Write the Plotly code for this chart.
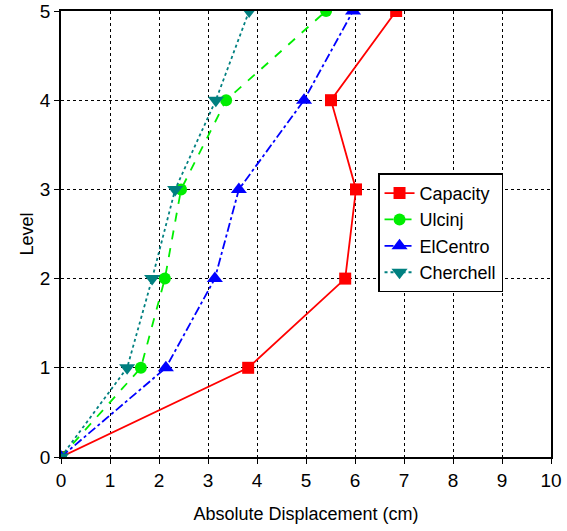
import plotly.graph_objects as go

levels = [0, 1, 2, 3, 4, 5]
capacity = [0, 3.82, 5.80, 6.02, 5.51, 6.84]
ulcinj = [0, 1.63, 2.12, 2.45, 3.37, 5.41]
elcentro = [0, 2.14, 3.14, 3.63, 4.96, 5.96]
cherchell = [0, 1.35, 1.86, 2.33, 3.16, 3.84]

series = [
    ("Capacity", capacity, "#ff0000", "solid", "square", 12),
    ("Ulcinj", ulcinj, "#00ee00", "dash", "circle", 12),
    ("ElCentro", elcentro, "#0000ff", "dashdot", "triangle-up", 14),
    ("Cherchell", cherchell, "#008080", "dot", "triangle-down", 14),
]

fig = go.Figure()
for name, xs, col, dash, sym, sz in series:
    fig.add_trace(go.Scatter(
        x=xs, y=levels, name=name, mode="lines+markers",
        line=dict(color=col, dash=dash, width=1.8),
        marker=dict(symbol=sym, size=sz, color=col),
    ))

axis_common = dict(
    showline=True, linecolor="black", linewidth=1.5, mirror=True,
    showgrid=True, gridcolor="black", griddash="dot", gridwidth=1,
    ticks="outside", ticklen=5, tickcolor="black", automargin=False,
    zeroline=False, tickfont=dict(size=19, color="black", family="Liberation Sans"),
)
fig.update_xaxes(range=[0, 10], dtick=1, title=dict(text="Absolute Displacement (cm)",
                 font=dict(size=18, color="black", family="Liberation Sans"), standoff=18), **axis_common)
fig.update_yaxes(range=[0, 5], dtick=1, title=dict(text="Level",
                 font=dict(size=18, color="black", family="Liberation Sans"), standoff=2), **axis_common)

fig.update_layout(
    width=567, height=531,
    margin=dict(l=61, r=16, t=11, b=74),
    plot_bgcolor="white", paper_bgcolor="white",
    font=dict(family="Liberation Sans", color="black"),
    legend=dict(x=0.647, y=0.636, xanchor="left", yanchor="top",
                bordercolor="black", borderwidth=1.5, bgcolor="white",
                font=dict(size=18, color="black"), tracegroupgap=0,
                itemwidth=30),
    showlegend=True,
)

fig.write_html("out.html")
